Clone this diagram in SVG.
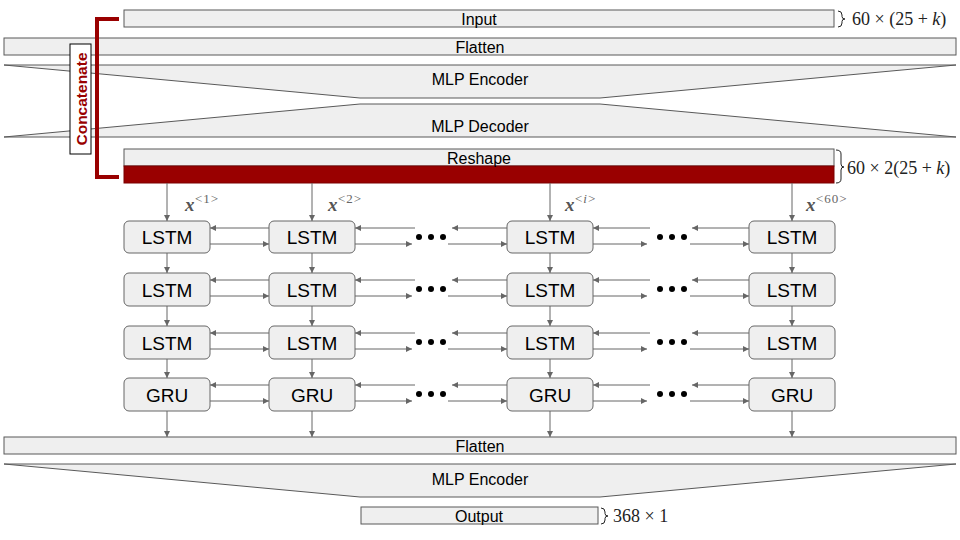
<svg xmlns="http://www.w3.org/2000/svg" width="960" height="540" viewBox="0 0 960 540">
<defs>
<marker id="ah" viewBox="0 0 8 8" refX="8" refY="4" markerWidth="6" markerHeight="6" markerUnits="userSpaceOnUse" orient="auto"><path d="M0,0 L8,4 L0,8 z" fill="#666"/></marker>
<style>
.blk{fill:#efefef;stroke:#595959;stroke-width:1}
.lbl{font-family:"Liberation Sans",Arial,sans-serif;font-size:16px;fill:#000;text-anchor:middle}
.node{fill:#efefef;stroke:#666;stroke-width:1}
.nt{font-family:"Liberation Sans",Arial,sans-serif;font-size:19px;fill:#000;text-anchor:middle}
.c{stroke:#666;stroke-width:1;fill:none;marker-end:url(#ah)}
.math{font-family:"Liberation Serif","DejaVu Serif",serif;font-size:18px;fill:#222}
.xv{font-family:"Liberation Serif","DejaVu Serif",serif;font-size:19px;font-style:italic;font-weight:bold;fill:#555}
.sup{font-family:"Liberation Serif","DejaVu Serif",serif;font-size:13px;fill:#666;letter-spacing:1px}
.dot{fill:#000}
</style>
</defs>
<rect width="960" height="540" fill="#fff"/>

<g id="input"><rect class="blk" x="124" y="10" width="710" height="17"/><text class="lbl" x="479" y="24.5">Input</text></g>
<g id="flatten1"><rect class="blk" x="4" y="38" width="952" height="17"/><text class="lbl" x="480" y="52.5">Flatten</text></g>
<g id="mlpenc1"><path class="blk" d="M4,65 L956,65 L600,98 L360,98 Z"/><text class="lbl" x="480" y="85">MLP Encoder</text></g>
<g id="mlpdec"><path class="blk" d="M360,104 L600,104 L956,137 L4,137 Z"/><text class="lbl" x="480" y="132">MLP Decoder</text></g>
<g id="reshape"><rect class="blk" x="124" y="149" width="710" height="17"/><rect x="124" y="166" width="710" height="17" fill="#990000" stroke="#7a0000" stroke-width="1"/><text class="lbl" x="479" y="163.5">Reshape</text></g>

<g id="concatenate">
<path d="M119,19 L97,19 L97,177 L119,177" fill="none" stroke="#990000" stroke-width="4"/>
<rect x="70" y="44" width="21" height="110" fill="#fff" stroke="#000" stroke-width="1"/>
<text transform="translate(86.5,99) rotate(-90)" text-anchor="middle" font-family="Liberation Sans,Arial,sans-serif" font-size="15.5" font-weight="bold" fill="#990000">Concatenate</text>
</g>

<g id="dims">
<path d="M838,11 q4,0 4,4 v1.5 q0,2.5 3,2.5 q-3,0 -3,2.5 v1.5 q0,4 -4,4" fill="none" stroke="#222" stroke-width="1"/>
<text class="math" x="852" y="25">60 × (25 + <tspan font-style="italic">k</tspan>)</text>
<path d="M836,150 q5,0 5,4 v10 q0,3 3,3 q-3,0 -3,3 v9 q0,4 -5,4" fill="none" stroke="#222" stroke-width="1"/>
<text class="math" x="847" y="174">60 × 2(25 + <tspan font-style="italic">k</tspan>)</text>
<path d="M601,508 q4,0 4,4 v1.5 q0,2.5 3,2.5 q-3,0 -3,2.5 v1.5 q0,4 -4,4" fill="none" stroke="#222" stroke-width="1"/>
<text class="math" x="613" y="522">368 × 1</text>
</g>

<g id="xlabels">
<text class="xv" x="185" y="211">x</text><text class="sup" x="195" y="203">&lt;1&gt;</text>
<text class="xv" x="328" y="211">x</text><text class="sup" x="338" y="203">&lt;2&gt;</text>
<text class="xv" x="565" y="211">x</text><text class="sup" x="575" y="203">&lt;<tspan font-style="italic">i</tspan>&gt;</text>
<text class="xv" x="806" y="211">x</text><text class="sup" x="816" y="203">&lt;60&gt;</text>
</g>

<g id="n11"><rect class="node" x="124" y="221" width="86" height="32" rx="5"/><text class="nt" x="167" y="244">LSTM</text></g>
<g id="n12"><rect class="node" x="269" y="221" width="86" height="32" rx="5"/><text class="nt" x="312" y="244">LSTM</text></g>
<g id="n13"><rect class="node" x="507" y="221" width="86" height="32" rx="5"/><text class="nt" x="550" y="244">LSTM</text></g>
<g id="n14"><rect class="node" x="749" y="221" width="86" height="32" rx="5"/><text class="nt" x="792" y="244">LSTM</text></g>

<g id="n21"><rect class="node" x="124" y="273" width="86" height="33" rx="5"/><text class="nt" x="167" y="296.5">LSTM</text></g>
<g id="n22"><rect class="node" x="269" y="273" width="86" height="33" rx="5"/><text class="nt" x="312" y="296.5">LSTM</text></g>
<g id="n23"><rect class="node" x="507" y="273" width="86" height="33" rx="5"/><text class="nt" x="550" y="296.5">LSTM</text></g>
<g id="n24"><rect class="node" x="749" y="273" width="86" height="33" rx="5"/><text class="nt" x="792" y="296.5">LSTM</text></g>

<g id="n31"><rect class="node" x="124" y="326" width="86" height="33" rx="5"/><text class="nt" x="167" y="349.5">LSTM</text></g>
<g id="n32"><rect class="node" x="269" y="326" width="86" height="33" rx="5"/><text class="nt" x="312" y="349.5">LSTM</text></g>
<g id="n33"><rect class="node" x="507" y="326" width="86" height="33" rx="5"/><text class="nt" x="550" y="349.5">LSTM</text></g>
<g id="n34"><rect class="node" x="749" y="326" width="86" height="33" rx="5"/><text class="nt" x="792" y="349.5">LSTM</text></g>

<g id="n41"><rect class="node" x="124" y="378" width="86" height="33" rx="5"/><text class="nt" x="167" y="401.5">GRU</text></g>
<g id="n42"><rect class="node" x="269" y="378" width="86" height="33" rx="5"/><text class="nt" x="312" y="401.5">GRU</text></g>
<g id="n43"><rect class="node" x="507" y="378" width="86" height="33" rx="5"/><text class="nt" x="550" y="401.5">GRU</text></g>
<g id="n44"><rect class="node" x="749" y="378" width="86" height="33" rx="5"/><text class="nt" x="792" y="401.5">GRU</text></g>

<g id="dots">
<circle class="dot" cx="419" cy="237" r="3"/><circle class="dot" cx="431" cy="237" r="3"/><circle class="dot" cx="443" cy="237" r="3"/>
<circle class="dot" cx="660" cy="237" r="3"/><circle class="dot" cx="672" cy="237" r="3"/><circle class="dot" cx="684" cy="237" r="3"/>
<circle class="dot" cx="419" cy="289" r="3"/><circle class="dot" cx="431" cy="289" r="3"/><circle class="dot" cx="443" cy="289" r="3"/>
<circle class="dot" cx="660" cy="289" r="3"/><circle class="dot" cx="672" cy="289" r="3"/><circle class="dot" cx="684" cy="289" r="3"/>
<circle class="dot" cx="419" cy="342" r="3"/><circle class="dot" cx="431" cy="342" r="3"/><circle class="dot" cx="443" cy="342" r="3"/>
<circle class="dot" cx="660" cy="342" r="3"/><circle class="dot" cx="672" cy="342" r="3"/><circle class="dot" cx="684" cy="342" r="3"/>
<circle class="dot" cx="419" cy="394" r="3"/><circle class="dot" cx="431" cy="394" r="3"/><circle class="dot" cx="443" cy="394" r="3"/>
<circle class="dot" cx="660" cy="394" r="3"/><circle class="dot" cx="672" cy="394" r="3"/><circle class="dot" cx="684" cy="394" r="3"/>
</g>

<g id="output"><rect class="blk" x="361" y="507" width="237" height="17"/><text class="lbl" x="479" y="521.5">Output</text></g>
<g id="flatten2"><rect class="blk" x="4" y="437" width="952" height="17"/><text class="lbl" x="480" y="451.5">Flatten</text></g>
<g id="mlpenc2"><path class="blk" d="M4,464 L956,464 L600,497 L360,497 Z"/><text class="lbl" x="480" y="485">MLP Encoder</text></g>

<g id="connectors">
<path class="c" d="M167,183 V221"/><path class="c" d="M312,183 V221"/><path class="c" d="M550,183 V221"/><path class="c" d="M792,183 V221"/>
<path class="c" d="M167,253 V273"/><path class="c" d="M312,253 V273"/><path class="c" d="M550,253 V273"/><path class="c" d="M792,253 V273"/>
<path class="c" d="M167,306 V326"/><path class="c" d="M312,306 V326"/><path class="c" d="M550,306 V326"/><path class="c" d="M792,306 V326"/>
<path class="c" d="M167,359 V378"/><path class="c" d="M312,359 V378"/><path class="c" d="M550,359 V378"/><path class="c" d="M792,359 V378"/>
<path class="c" d="M167,411 V437"/><path class="c" d="M312,411 V437"/><path class="c" d="M550,411 V437"/><path class="c" d="M792,411 V437"/>
<g id="h1">
<path class="c" d="M269,228 H210"/><path class="c" d="M210,244 H269"/>
<path class="c" d="M415,228 H355"/><path class="c" d="M355,244 H412"/>
<path class="c" d="M507,228 H452"/><path class="c" d="M448,244 H507"/>
<path class="c" d="M650,228 H593"/><path class="c" d="M593,244 H647"/>
<path class="c" d="M749,228 H692"/><path class="c" d="M690,244 H749"/>
</g>
<g id="h2">
<path class="c" d="M269,280 H210"/><path class="c" d="M210,296 H269"/>
<path class="c" d="M415,280 H355"/><path class="c" d="M355,296 H412"/>
<path class="c" d="M507,280 H452"/><path class="c" d="M448,296 H507"/>
<path class="c" d="M650,280 H593"/><path class="c" d="M593,296 H647"/>
<path class="c" d="M749,280 H692"/><path class="c" d="M690,296 H749"/>
</g>
<g id="h3">
<path class="c" d="M269,333 H210"/><path class="c" d="M210,349 H269"/>
<path class="c" d="M415,333 H355"/><path class="c" d="M355,349 H412"/>
<path class="c" d="M507,333 H452"/><path class="c" d="M448,349 H507"/>
<path class="c" d="M650,333 H593"/><path class="c" d="M593,349 H647"/>
<path class="c" d="M749,333 H692"/><path class="c" d="M690,349 H749"/>
</g>
<g id="h4">
<path class="c" d="M269,385 H210"/><path class="c" d="M210,401 H269"/>
<path class="c" d="M415,385 H355"/><path class="c" d="M355,401 H412"/>
<path class="c" d="M507,385 H452"/><path class="c" d="M448,401 H507"/>
<path class="c" d="M650,385 H593"/><path class="c" d="M593,401 H647"/>
<path class="c" d="M749,385 H692"/><path class="c" d="M690,401 H749"/>
</g>
</g>
</svg>
